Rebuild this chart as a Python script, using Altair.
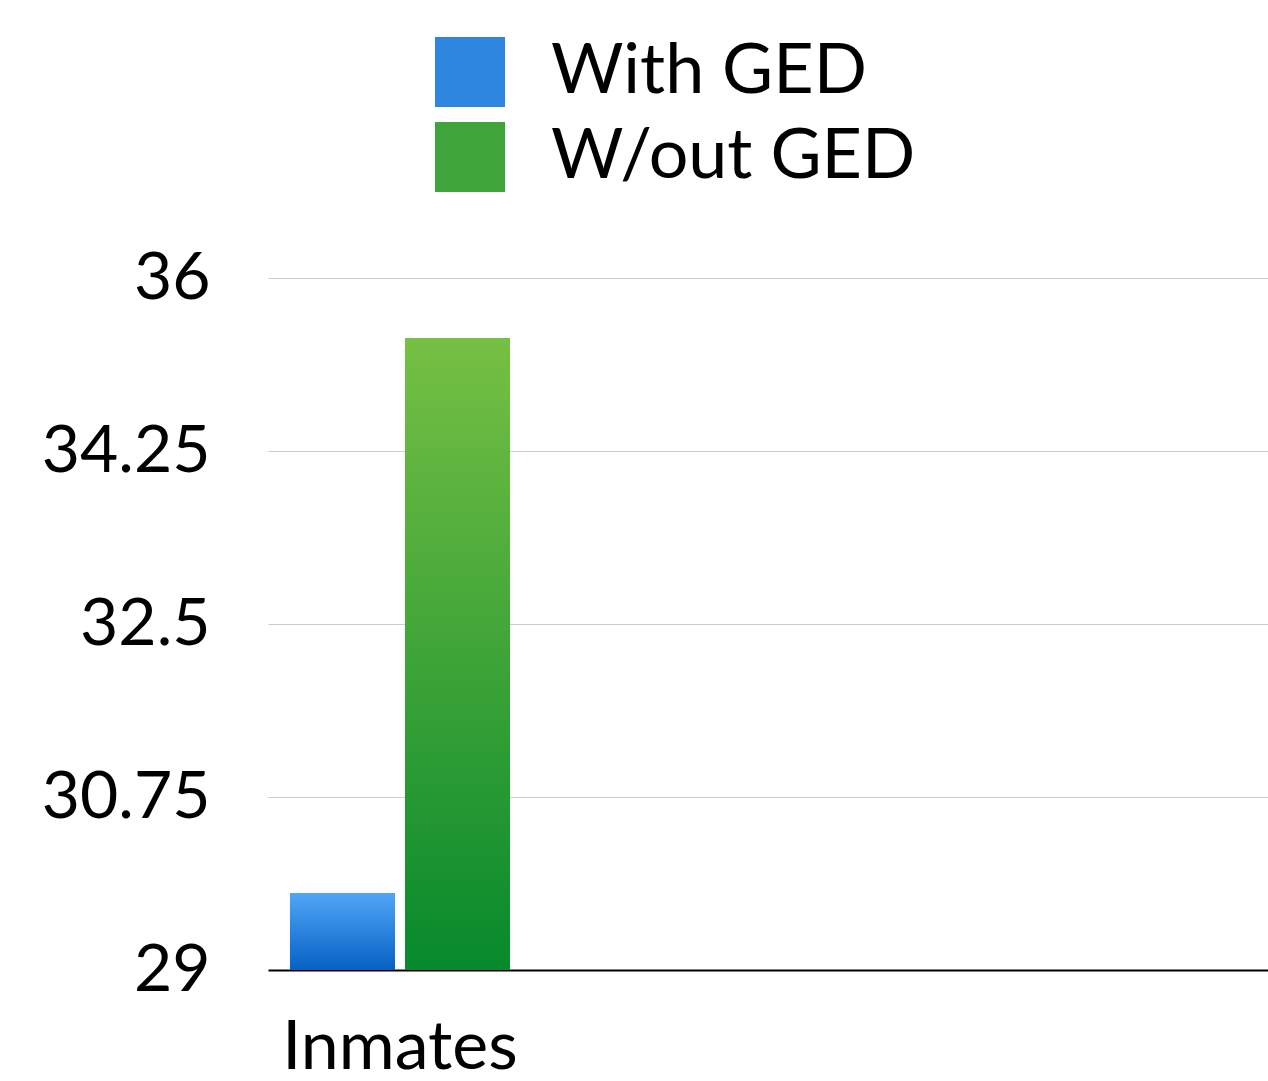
import altair as alt
import pandas as pd

# ---- data ----
categories = ["Inmates"]
placeholders = ["_b", "_c", "_d"]          # empty slots on the category axis
series = ["With GED", "W/out GED"]
values = [29.78, 35.39]
y_ticks = [29, 30.75, 32.5, 34.25, 36]
y_domain = [29, 36]

df = pd.DataFrame({
    "category": [categories[0]] * len(series),
    "series": series,
    "value": values,
})

FONT = "Lato"

x_enc = alt.X(
    "category:N",
    scale=alt.Scale(domain=categories + placeholders, paddingInner=0, paddingOuter=0.038),
    axis=alt.Axis(
        title=None,
        labelExpr="datum.value == 'Inmates' ? datum.value : ''",
        labelFontSize=68,
        labelFont=FONT,
        labelColor="black",
        labelPadding=44,
        labelAngle=0,
        labelLimit=0,
        ticks=False,
        grid=False,
        domain=True,
        domainColor="black",
        domainWidth=2,
    ),
)
xo_enc = alt.XOffset(
    "series:N",
    scale=alt.Scale(domain=series, paddingInner=0.087, paddingOuter=0.11),
)
y_enc = alt.Y(
    "value:Q",
    scale=alt.Scale(domain=y_domain, zero=False, nice=False),
    axis=alt.Axis(
        title=None,
        values=y_ticks,
        labelExpr="'' + datum.value",
        labelFontSize=66,
        labelFont=FONT,
        labelColor="black",
        labelPadding=58,
        labelBaseline="middle",
        labelLimit=0,
        ticks=False,
        domain=False,
        grid=True,
        gridColor="#CCCCCC",
        gridWidth=1,
    ),
)

base = alt.Chart(df).encode(x=x_enc, xOffset=xo_enc, y=y_enc, y2=alt.datum(y_domain[0]))

legend_layer = base.mark_bar().encode(
    color=alt.Color(
        "series:N",
        scale=alt.Scale(domain=series, range=["#2F86E0", "#3FA53A"]),
        legend=alt.Legend(
            title=None,
            orient="none",
            legendX=167,
            legendY=-241,
            symbolType="square",
            symbolSize=4900,
            symbolStrokeWidth=0,
            symbolOpacity=1,
            labelFontSize=70,
            labelFont=FONT,
            labelColor="black",
            labelLimit=0,
            labelOffset=46,
            rowPadding=15,
            padding=0,
        ),
    )
)

blue_grad = alt.Gradient(
    gradient="linear",
    stops=[alt.GradientStop(color="#52A6F7", offset=0), alt.GradientStop(color="#0561C4", offset=1)],
    x1=0, x2=0, y1=0, y2=1,
)
green_grad = alt.Gradient(
    gradient="linear",
    stops=[alt.GradientStop(color="#76C044", offset=0), alt.GradientStop(color="#07892C", offset=1)],
    x1=0, x2=0, y1=0, y2=1,
)

blue_layer = base.mark_bar(color=blue_grad).transform_filter(alt.datum.series == series[0])
green_layer = base.mark_bar(color=green_grad).transform_filter(alt.datum.series == series[1])

chart = (
    alt.layer(legend_layer, blue_layer, green_layer)
    .properties(
        width=1000,
        height=692,
        autosize=alt.AutoSizeParams(type="none"),
        padding={"left": 268, "top": 278, "right": 0, "bottom": 111},
        view=alt.ViewBackground(stroke="transparent", strokeWidth=0),
    )
    .configure_view(stroke="transparent", strokeWidth=0)
    .configure_axisY(domain=False)
    .configure_axisX(grid=False)
    .configure(background="white")
)

chart.save("out.html", embed_options={"renderer": "svg", "actions": False})
